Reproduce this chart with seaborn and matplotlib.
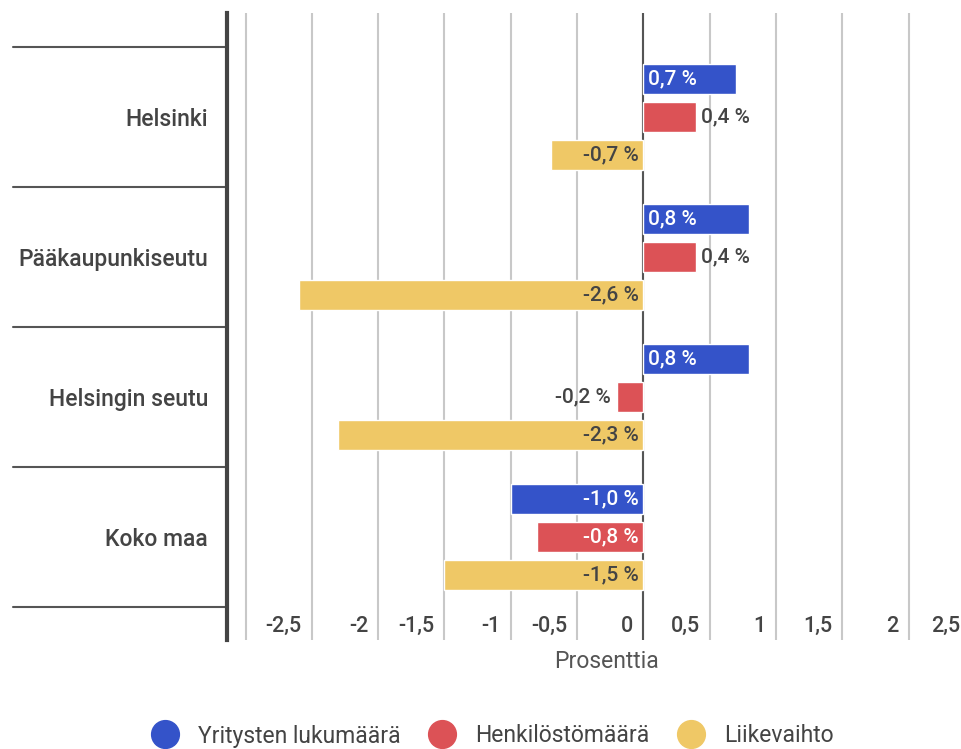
import numpy as np
import pandas as pd
import matplotlib
matplotlib.use("Agg")
import matplotlib.pyplot as plt
import matplotlib.transforms as mtransforms
from matplotlib.lines import Line2D
import seaborn as sns

# ==================== Data ====================
alueet = ["Helsinki", "Pääkaupunkiseutu", "Helsingin seutu", "Koko maa"]
sarjat = ["Yritysten lukumäärä", "Henkilöstömäärä", "Liikevaihto"]
yritykset = [0.7, 0.8, 0.8, -1.0]
henkilosto = [0.4, 0.4, -0.2, -0.8]
liikevaihto = [-0.7, -2.6, -2.3, -1.5]
xtick_vals = [-2.5, -2, -1.5, -1, -0.5, 0, 0.5, 1, 1.5, 2, 2.5]
xtick_labels = ["-2,5", "-2", "-1,5", "-1", "-0,5", "0", "0,5", "1", "1,5", "2", "2,5"]
xlabel = "Prosenttia"
colors = ["#3453c9", "#dc5256", "#efc866"]

df = pd.DataFrame({
    "alue": alueet * 3,
    "sarja": [s for s in sarjat for _ in alueet],
    "arvo": yritykset + henkilosto + liikevaihto,
})

# ==================== Style ====================
sns.set_style("white")
plt.rcParams["font.family"] = ["Roboto", "DejaVu Sans"]
TXT = "#444444"

W, H = 962, 749
fig = plt.figure(figsize=(W / 100, H / 100), dpi=100)
ax_l, ax_r, ax_t, ax_b = 227, 962, 13, 640
ax = fig.add_axes([ax_l / W, 1 - ax_b / H, (ax_r - ax_l) / W, (ax_b - ax_t) / H])

sns.barplot(data=df, y="alue", x="arvo", hue="sarja", hue_order=sarjat,
            order=alueet, palette=colors, orient="h", width=0.814, gap=0.21,
            saturation=1, errorbar=None, legend=False, ax=ax, zorder=2)

# ==================== Axes ====================
px_per_unit = 132.6
x0 = -3.14
x1 = x0 + (ax_r - ax_l) / px_per_unit
ax.set_xlim(x0, x1)
ax.set_ylim(3 + (ax_b - 537) / 140, -(117 - ax_t) / 140)

ax.set_xticks(np.arange(-3, 2.01, 0.5))
ax.set_xticklabels([])
ax.grid(axis="x", color="#c8c8c8", lw=1.5)
ax.grid(axis="y", visible=False)
ax.set_axisbelow(True)
ax.axvline(0, color="#555555", lw=1.5, zorder=1.5)
ax.tick_params(axis="x", length=0)
ax.tick_params(axis="y", length=0, pad=13.5, labelsize=16.5, labelcolor=TXT)
for lbl in ax.get_yticklabels():
    lbl.set_fontweight("medium")
ax.set_xlabel("")
ax.set_ylabel("")

for s in ["top", "right", "bottom"]:
    ax.spines[s].set_visible(False)
ax.spines["left"].set_color("#444444")
ax.spines["left"].set_linewidth(3)

# category separators in the left margin
blend = mtransforms.blended_transform_factory(ax.transAxes, ax.transData)
for b in np.arange(-0.5, len(alueet), 1.0):
    ax.plot([-(ax_l - 13) / (ax_r - ax_l), 0], [b, b], transform=blend,
            clip_on=False, color="#555555", lw=1.5)

# x tick labels, right-aligned just left of each gridline
blend_x = mtransforms.blended_transform_factory(ax.transData, ax.transAxes)
for v, t in zip(xtick_vals, xtick_labels):
    # keep the last label inside the picture
    shift = min(-10, (x1 - v) * px_per_unit - 2)
    off = mtransforms.ScaledTranslation(shift / 100, 0, fig.dpi_scale_trans)
    ax.text(v, (ax_b - 626) / (ax_b - ax_t), t, transform=blend_x + off,
            ha="right", va="center", fontsize=15.5, color=TXT,
            fontweight="medium", clip_on=False)

ax.text((607 - ax_l) / (ax_r - ax_l), -(661 - ax_b) / (ax_b - ax_t), xlabel,
        transform=ax.transAxes, ha="center", va="center", fontsize=16.5,
        color="#555555")

# ==================== Value labels ====================
for i, cont in enumerate(ax.containers):
    for bar in cont:
        v = bar.get_width()
        yc = bar.get_y() + bar.get_height() / 2
        txt = f"{v:.1f} %".replace(".", ",")
        if abs(v) >= 0.5:
            color = "white" if i < 2 else TXT
            dx, ha = (3.5, "left") if v > 0 else (-3.5, "right")
            ax.annotate(txt, (0, yc), xytext=(dx, 0), textcoords="offset points",
                        ha=ha, va="center", fontsize=15, color=color,
                        fontweight="medium", zorder=3)
        else:
            dx, ha = (3, "left") if v > 0 else (-4.5, "right")
            ax.annotate(txt, (v, yc), xytext=(dx, 0), textcoords="offset points",
                        ha=ha, va="center", fontsize=15, color=TXT,
                        fontweight="medium", zorder=3)

# ==================== Legend ====================
handles = [Line2D([], [], marker="o", ls="", markersize=20, color=c) for c in colors]
fig.legend(handles, sarjat, loc="center", bbox_to_anchor=(492 / W, 1 - 736 / H),
           ncol=3, frameon=False, fontsize=16.5, labelcolor=TXT,
           handlelength=1.3, handletextpad=0.8, columnspacing=1.15,
           borderaxespad=0)

fig.savefig("out.png", dpi=100)
